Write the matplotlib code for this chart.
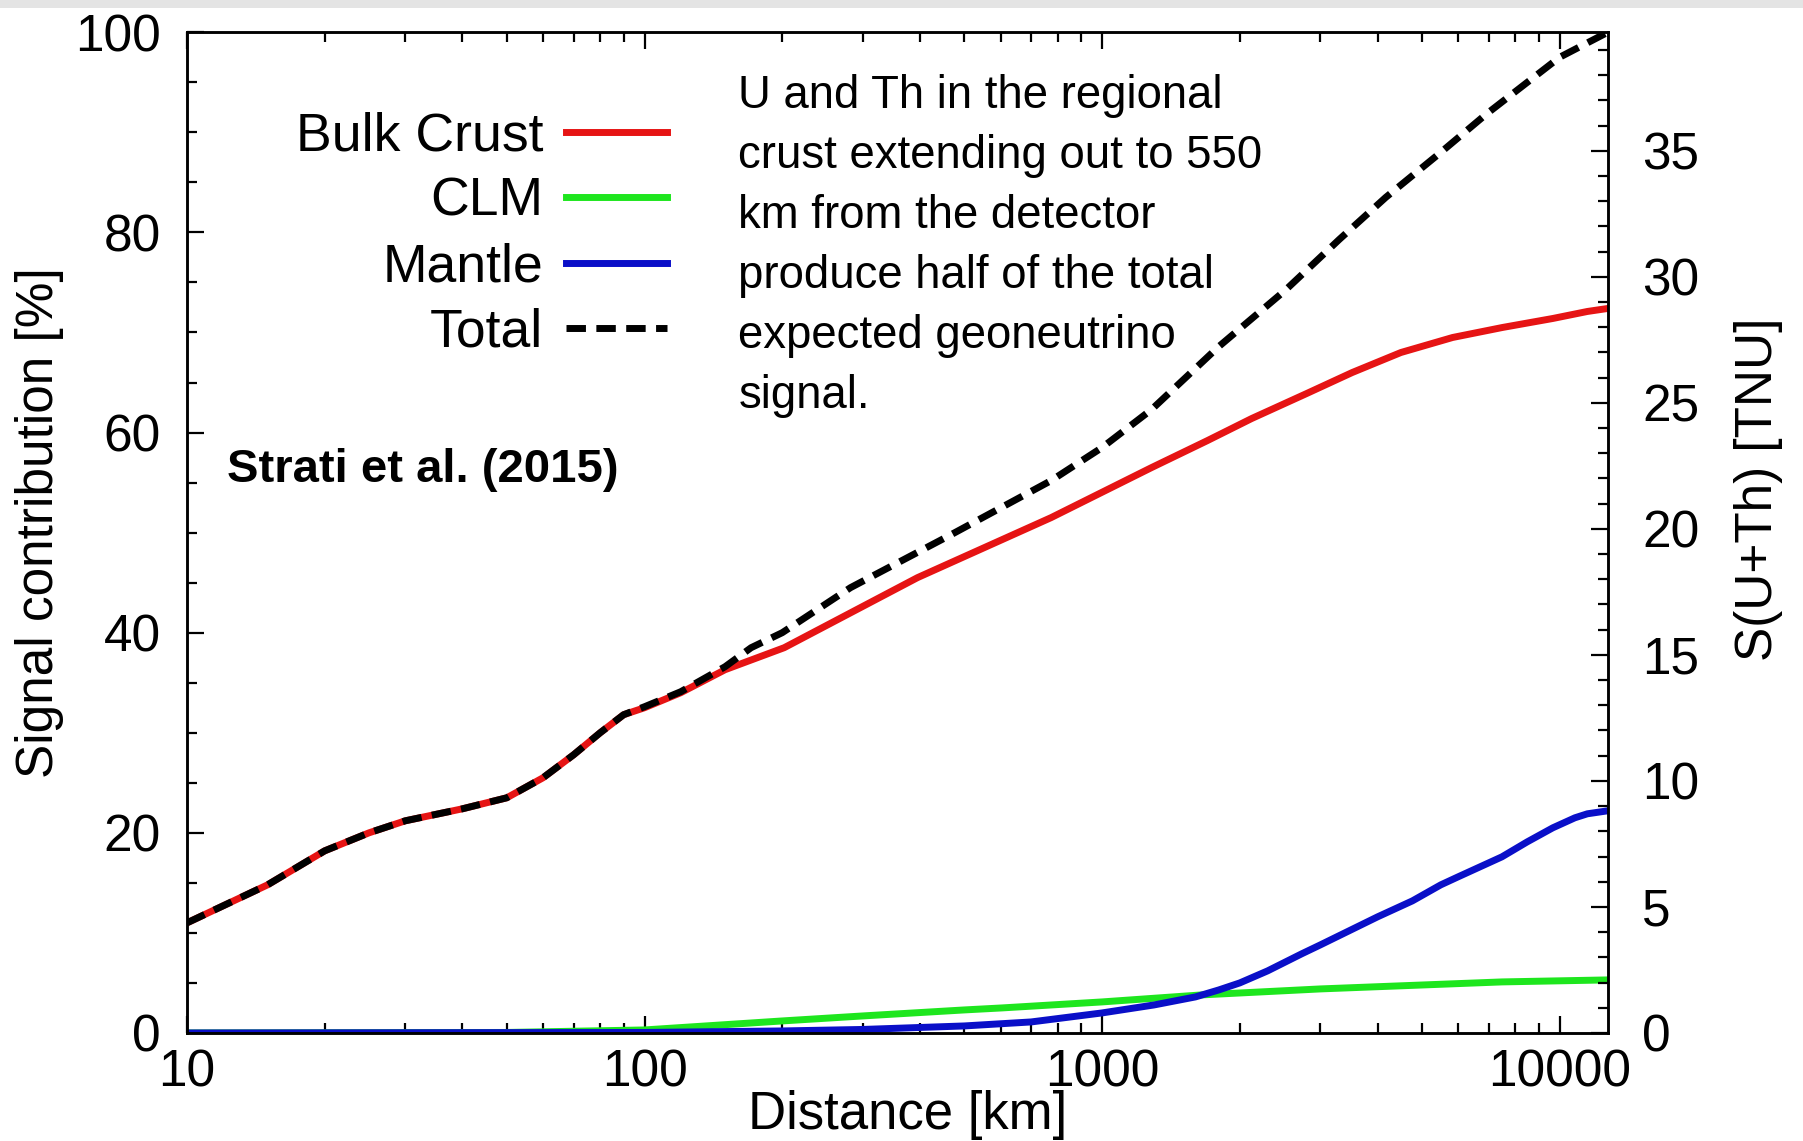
import numpy as np
import matplotlib
matplotlib.use("Agg")
import matplotlib.pyplot as plt
from matplotlib import ticker
from matplotlib.patches import Rectangle

plt.rcParams['font.family'] = ['Liberation Sans', 'DejaVu Sans']

# values (distance in km, contribution in %)
total_km = [10, 15, 20, 25, 30, 40, 50, 60, 70, 80, 90, 100, 120, 150, 171, 200,
            282, 468, 774, 1000, 1283, 1800, 2512, 3300, 4169, 5500, 6906, 8500,
            10000, 12742]
total_pct = [11.0, 14.8, 18.2, 20.0, 21.2, 22.4, 23.5, 25.5, 27.8, 30.0, 31.8, 32.6,
             34.1, 36.6, 38.5, 40.0, 44.5, 49.8, 55.2, 58.5, 62.3, 68.6, 74.2, 79.3,
             83.5, 88.0, 91.8, 95.0, 97.5, 100.0]

crust_km = [10, 15, 20, 25, 30, 40, 50, 60, 70, 80, 90, 100, 120, 150, 202, 395,
            774, 1283, 1700, 2123, 2800, 3522, 4500, 5837, 7500, 9665, 11500, 12742]
crust_pct = [11.0, 14.8, 18.2, 20.0, 21.2, 22.4, 23.5, 25.5, 27.8, 30.0, 31.8, 32.5,
             34.0, 36.3, 38.5, 45.5, 51.5, 56.5, 59.2, 61.4, 63.9, 66.0, 68.0, 69.5,
             70.5, 71.4, 72.1, 72.4]

clm_km = [10, 50, 100, 200, 300, 500, 604, 1000, 1648, 3000, 7482, 12742]
clm_pct = [0.0, 0.05, 0.3, 1.2, 1.7, 2.3, 2.5, 3.1, 3.8, 4.4, 5.1, 5.3]

mantle_km = [10, 100, 200, 300, 500, 700, 1000, 1300, 1600, 1800, 2000, 2300, 2729,
             3000, 3500, 4000, 4768, 5500, 6000, 7482, 8500, 9665, 10800, 11500, 12742]
mantle_pct = [0.0, 0.05, 0.2, 0.35, 0.7, 1.1, 2.0, 2.8, 3.6, 4.3, 5.0, 6.2, 7.9,
              8.8, 10.3, 11.6, 13.2, 14.8, 15.6, 17.6, 19.1, 20.5, 21.5, 21.9, 22.2]

x_ticks = [10, 100, 1000, 10000]
tnu_max = 39.7

note = ("U and Th in the regional\ncrust extending out to 550\nkm from the detector\n"
        "produce half of the total\nexpected geoneutrino\nsignal.")

fig = plt.figure(figsize=(18.03, 11.41), dpi=100)
ax = fig.add_axes([0.1037, 0.0947, 0.788, 0.877])

ax.plot(clm_km, clm_pct, color='#1ee61e', lw=5, label='CLM')
ax.plot(mantle_km, mantle_pct, color='#0a0fc8', lw=5, label='Mantle')
ax.plot(crust_km, crust_pct, color='#e61414', lw=5, label='Bulk Crust')
ax.plot(total_km, total_pct, color='black', lw=5, ls=(0, (2.8, 1.5)), label='Total')

ax.set_xscale('log')
ax.set_xlim(10, 12742)
ax.set_ylim(0, 100)
ax.xaxis.set_major_locator(ticker.FixedLocator(x_ticks))
ax.xaxis.set_major_formatter(ticker.FuncFormatter(lambda v, p: f"{v:g}"))
ax.xaxis.set_minor_locator(ticker.LogLocator(base=10, subs=np.arange(2, 10)))
ax.xaxis.set_minor_formatter(ticker.NullFormatter())
ax.yaxis.set_major_locator(ticker.MultipleLocator(20))
ax.yaxis.set_minor_locator(ticker.MultipleLocator(5))

ax.tick_params(which='both', direction='in', top=True, right=False, width=1.6)
ax.tick_params(which='major', length=12, labelsize=37)
ax.tick_params(which='minor', length=7)
ax.tick_params(axis='y', pad=19)
ax.tick_params(axis='x', pad=11)
for s in ax.spines.values():
    s.set_linewidth(1.8)

ax2 = ax.twinx()
ax2.set_ylim(0, tnu_max)
ax2.yaxis.set_major_locator(ticker.MultipleLocator(5))
ax2.yaxis.set_minor_locator(ticker.MultipleLocator(1))
ax2.tick_params(which='both', direction='in', width=1.6, pad=25)
ax2.tick_params(which='major', length=12, labelsize=37)
ax2.tick_params(which='minor', length=7)
for s in ax2.spines.values():
    s.set_linewidth(1.8)

ax.set_xlabel('Distance [km]', fontsize=38, va='center')
ax.xaxis.set_label_coords(0.507, -0.082)
ax.set_ylabel('Signal contribution [%]', fontsize=37, va='center')
ax.yaxis.set_label_coords(-0.1035, 0.51)
ax2.set_ylabel('S(U+Th) [TNU]', fontsize=37, va='center')
ax2.yaxis.set_label_coords(1.106, 0.543)

h, l = ax.get_legend_handles_labels()
order = [2, 0, 1, 3]
leg = ax.legend([h[i] for i in order], [l[i] for i in order], loc='upper right',
                bbox_to_anchor=(0.338, 0.921), frameon=False, fontsize=38.5,
                markerfirst=False, handlelength=1.9, handletextpad=0.42,
                labelspacing=0.29, borderpad=0, borderaxespad=0)
for vp in leg._legend_handle_box.get_children():
    vp.align = 'right'

ax.text(0.388, 0.958, note, transform=ax.transAxes, fontsize=32.8, va='top',
        ha='left', linespacing=1.47)
ax.text(0.028, 0.563, 'Strati et al. (2015)', transform=ax.transAxes, fontsize=34,
        fontweight='bold', va='center', ha='left')

fig.add_artist(Rectangle((0, 0.993), 1, 0.007, transform=fig.transFigure,
                         color='#e4e4e4', lw=0))

fig.savefig('out.png', dpi=100)
